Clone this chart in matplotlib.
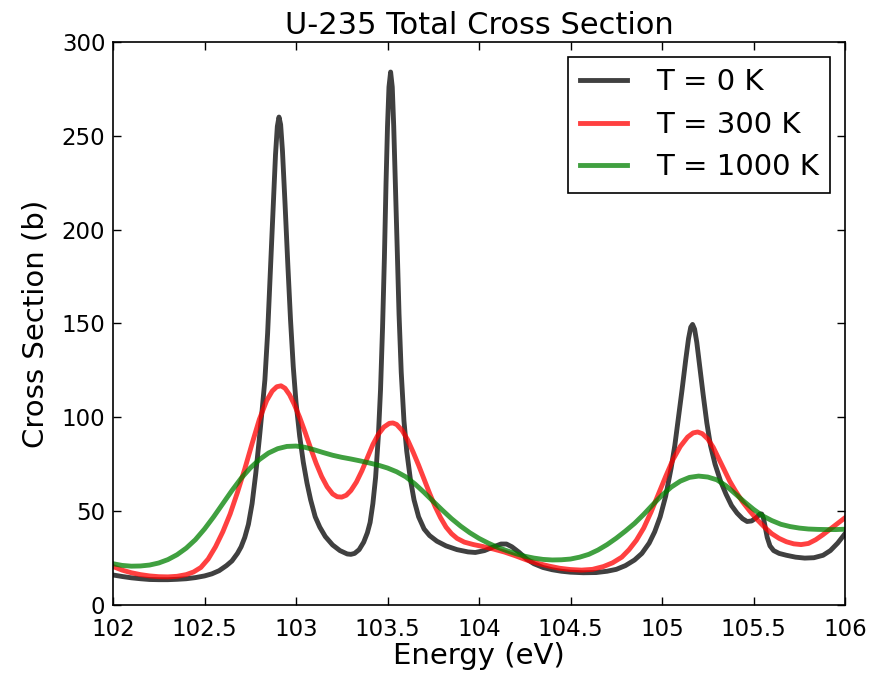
import matplotlib
matplotlib.use("Agg")
import matplotlib.pyplot as plt

# values (energy in eV, cross section in b)
e_0k = [102.00, 102.05, 102.10, 102.15, 102.20, 102.25, 102.30, 102.35, 102.40,
        102.45, 102.50, 102.54, 102.58, 102.62, 102.65, 102.68, 102.70, 102.72,
        102.74, 102.76, 102.78, 102.80, 102.815, 102.83, 102.845, 102.86,
        102.875, 102.888, 102.898, 102.907, 102.916, 102.926, 102.94, 102.955,
        102.97, 102.985, 103.00, 103.02, 103.04, 103.06, 103.08, 103.105,
        103.13, 103.16, 103.20, 103.24, 103.28, 103.30, 103.32, 103.345,
        103.37, 103.39, 103.405, 103.42, 103.435, 103.45, 103.462, 103.473,
        103.483, 103.492, 103.50, 103.508, 103.517, 103.526, 103.534, 103.543,
        103.553, 103.563, 103.575, 103.59, 103.605, 103.625, 103.645, 103.67,
        103.70, 103.73, 103.77, 103.82, 103.88, 103.94, 103.98, 104.03, 104.08,
        104.12, 104.15, 104.18, 104.22, 104.26, 104.30, 104.35, 104.40, 104.45,
        104.50, 104.57, 104.64, 104.70, 104.75, 104.80, 104.85, 104.89, 104.93,
        104.96, 104.99, 105.02, 105.05, 105.07, 105.09, 105.11, 105.13,
        105.145, 105.157, 105.167, 105.178, 105.19, 105.205, 105.225, 105.245,
        105.265, 105.29, 105.32, 105.35, 105.38, 105.41, 105.44, 105.465,
        105.49, 105.515, 105.535, 105.545, 105.555, 105.565, 105.575, 105.59,
        105.61, 105.64, 105.68, 105.73, 105.78, 105.83, 105.88, 105.92, 105.96,
        106.00]
xs_0k = [16, 15.2, 14.5, 14, 13.6, 13.5, 13.5, 13.7, 14,
         14.6, 15.5, 16.6, 18.3, 21, 23.5, 27.5, 31, 36,
         43, 54, 70, 89, 104, 120, 145, 178,
         212, 240, 255, 260, 256, 242, 214, 182,
         152, 127, 108, 90, 76, 65, 56, 47,
         41.5, 36.5, 32, 29, 27.2, 27, 27.5, 29.5,
         33.5, 38.5, 44, 54, 68, 90, 115, 148,
         185, 225, 255, 276, 284, 276, 255, 225,
         190, 155, 124, 98, 82, 67, 56, 47,
         40.5, 37, 34, 31.5, 29.5, 28.3, 28, 29, 31,
         32.5, 32.5, 31, 28, 24.5, 22, 20, 18.8, 18,
         17.5, 17.2, 17.3, 18, 19, 21, 24, 27.5, 33,
         39, 47, 58, 73, 85, 100, 115, 131,
         142, 148, 149.5, 147, 140, 128, 112, 97,
         85, 75, 66, 59, 53, 49, 46, 44.5,
         44.8, 46.5, 48.5, 48.5, 46, 41, 36, 31.5,
         29, 27.5, 26.5, 25.5, 25, 25.2, 26.5, 29, 33,
         38]

e_300k = [102.00, 102.05, 102.10, 102.15, 102.20, 102.25, 102.30, 102.35, 102.40,
          102.44, 102.48, 102.52, 102.56, 102.60, 102.64, 102.68, 102.72, 102.76,
          102.80, 102.84, 102.87, 102.895, 102.918, 102.94, 102.965, 102.99,
          103.02, 103.05, 103.08, 103.11, 103.14, 103.17, 103.20, 103.225,
          103.25, 103.275, 103.30, 103.33, 103.36, 103.39, 103.42, 103.45,
          103.48, 103.51, 103.53, 103.55, 103.58, 103.61, 103.64, 103.67,
          103.70, 103.73, 103.76, 103.79, 103.82, 103.85, 103.88, 103.92,
          103.97, 104.02, 104.08, 104.14, 104.20, 104.26, 104.32, 104.38,
          104.44, 104.50, 104.56, 104.62, 104.68, 104.73, 104.78, 104.82,
          104.86, 104.90, 104.94, 104.98, 105.02, 105.06, 105.10, 105.14,
          105.17, 105.195, 105.22, 105.25, 105.28, 105.31, 105.34, 105.37,
          105.40, 105.44, 105.48, 105.52, 105.56, 105.60, 105.64, 105.68,
          105.72, 105.76, 105.80, 105.84, 105.88, 105.92, 105.96, 106.00]
xs_300k = [20.5, 18.6, 17.2, 16.2, 15.5, 15.1, 15, 15.3, 16.2,
           17.6, 20, 24.5, 31, 39, 48.5, 60, 72.5, 86,
           99, 109, 114, 116.3, 116.8, 115.5, 112, 107,
           100, 92, 83.5, 75.5, 68.5, 63, 59.2, 57.7,
           57.5, 58.5, 61, 65.5, 71.5, 78.5, 85.5, 91,
           94.8, 96.8, 97, 96.2, 93, 88, 81.5, 74.5,
           67, 59.5, 52.5, 46.5, 41.5, 38, 35.5, 33.5,
           32.2, 31.2, 29.8, 28.2, 26.2, 24, 22.2, 20.8,
           19.6, 18.9, 18.6, 19, 20.5, 22.5, 25.5, 29.5,
           34.5, 41, 49.5, 59, 68.5, 77.5, 84.5, 89.5,
           91.7, 92.2, 91.3, 88.5, 84, 78, 72, 66,
           61, 55, 50, 45.5, 41.5, 38, 35.5, 33.7,
           32.6, 32.2, 32.8, 34.8, 37.5, 40.5, 43.5, 46.5]

e_1000k = [102.00, 102.05, 102.10, 102.15, 102.20, 102.25, 102.30, 102.35, 102.40,
           102.45, 102.50, 102.55, 102.60, 102.65, 102.70, 102.75, 102.80, 102.85,
           102.90, 102.95, 103.00, 103.05, 103.10, 103.15, 103.20, 103.25, 103.30,
           103.35, 103.40, 103.45, 103.50, 103.55, 103.60, 103.65, 103.70, 103.75,
           103.80, 103.85, 103.90, 103.95, 104.00, 104.05, 104.10, 104.15, 104.20,
           104.25, 104.30, 104.35, 104.40, 104.45, 104.50, 104.55, 104.60, 104.65,
           104.70, 104.75, 104.80, 104.85, 104.90, 104.95, 105.00, 105.05, 105.10,
           105.15, 105.20, 105.25, 105.30, 105.35, 105.40, 105.45, 105.50, 105.55,
           105.60, 105.65, 105.70, 105.75, 105.80, 105.85, 105.90, 105.95, 106.00]
xs_1000k = [22, 21.1, 20.7, 20.8, 21.3, 22.4, 24.2, 26.8, 30.3,
            34.8, 40.5, 47, 54, 61, 67.5, 73, 77.5, 81,
            83.3, 84.5, 84.7, 84, 82.7, 81.2, 79.8, 78.7, 77.8,
            76.8, 75.7, 74.5, 73, 71, 68.3, 64.5, 60, 55.2,
            50.5, 46, 42, 38.5, 35.5, 33, 30.8, 29, 27.4,
            26, 25, 24.3, 24, 24.1, 24.5, 25.5, 27, 29.3,
            32.2, 35.6, 39.4, 43.5, 48.3, 53.5, 58.5, 62.8, 66,
            68, 68.7, 68.2, 66.7, 63.5, 59.3, 55, 51, 47.5,
            45, 43, 41.8, 41, 40.5, 40.3, 40.2, 40.2, 40.4]

x_ticks = [102, 102.5, 103, 103.5, 104, 104.5, 105, 105.5, 106]
x_tick_labels = ['102', '102.5', '103', '103.5', '104', '104.5', '105', '105.5', '106']
y_ticks = [0, 50, 100, 150, 200, 250, 300]

fig = plt.figure(figsize=(8.94, 6.76), dpi=100)
ax = fig.add_axes([0.1264, 0.105, 0.8188, 0.8329])

ax.plot(e_0k, xs_0k, color='k', alpha=0.75, lw=3.5, label='T = 0 K')
ax.plot(e_300k, xs_300k, color='r', alpha=0.75, lw=3.5, label='T = 300 K')
ax.plot(e_1000k, xs_1000k, color=(0, 0.5, 0), alpha=0.75, lw=3.5, label='T = 1000 K')

ax.set_xlim(102, 106)
ax.set_ylim(0, 300)
ax.set_xticks(x_ticks)
ax.set_xticklabels(x_tick_labels)
ax.set_yticks(y_ticks)
ax.tick_params(direction='in', top=True, right=True, length=6, width=1,
               labelsize=16.5)
ax.tick_params(axis='x', pad=9)
ax.tick_params(axis='y', pad=5.5)
for s in ax.spines.values():
    s.set_linewidth(1.2)

ax.set_xlabel('Energy (eV)', fontsize=21, labelpad=1)
ax.set_ylabel('Cross Section (b)', fontsize=21, labelpad=9)
ax.set_title('U-235 Total Cross Section', fontsize=22, pad=6)

leg = ax.legend(loc='upper right', fontsize=21, fancybox=False, framealpha=1,
                edgecolor='k', handlelength=1.6, handletextpad=1.0,
                labelspacing=0.5, borderaxespad=0.5)
leg.get_frame().set_linewidth(1.2)

fig.savefig('out.png', dpi=100)
